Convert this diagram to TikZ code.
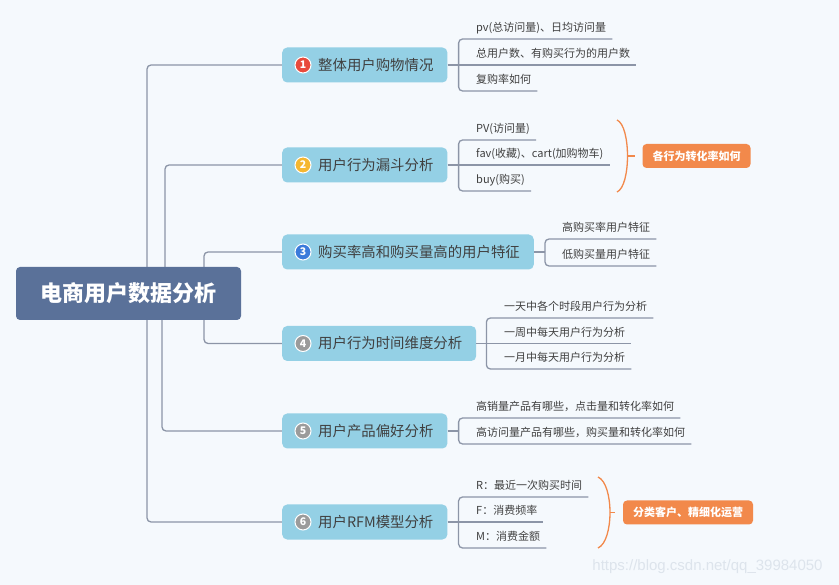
\documentclass[tikz,border=0pt]{standalone}
\usepackage{fontspec}
\setmainfont{Noto Sans CJK SC}
\newfontfamily\urlfont{Liberation Sans}
\usetikzlibrary{positioning}

\definecolor{bgcol}{HTML}{F5F9FD}
\definecolor{linecol}{HTML}{8C95A7}
\definecolor{rootcol}{HTML}{5A7199}
\definecolor{branchcol}{HTML}{94D0E5}
\definecolor{txtcol}{HTML}{404040}
\definecolor{notecol}{HTML}{F2894B}
\definecolor{redbadge}{HTML}{E84A3C}
\definecolor{yellowbadge}{HTML}{F5B730}
\definecolor{bluebadge}{HTML}{3B7BDB}
\definecolor{graybadge}{HTML}{9B9B9B}
\definecolor{wmcol}{HTML}{DDE4EC}

\pgfdeclarelayer{back}
\pgfsetlayers{back,main}

\begin{document}
\begin{tikzpicture}[x=1pt, y=-1pt,
	root/.style = {rectangle, rounded corners=4pt, fill=rootcol, text=white, font=\fontsize{22}{26}\selectfont\bfseries, minimum width=225, minimum height=53, inner sep=0},
	branch/.style = {rectangle, rounded corners=5pt, fill=branchcol, text=txtcol, font=\fontsize{14.4}{17}\selectfont, minimum height=35, inner xsep=14, anchor=west},
	leaf/.style = {text=txtcol, font=\fontsize{11}{13}\selectfont, inner xsep=6, inner ysep=4.5, text height=8.5, text depth=2.5, anchor=south west},
	note/.style = {rectangle, rounded corners=4pt, fill=notecol, text=white, font=\fontsize{11}{13}\selectfont\bfseries, minimum height=24, inner xsep=10},
	badge/.style = {circle, fill=#1, draw=white, line width=1, text=white, font=\fontsize{10.5}{11}\selectfont\bfseries, inner sep=0, minimum size=16},
	link/.style = {draw=linecol, line width=1.3, rounded corners=4pt},
	curl/.style = {draw=notecol, line width=1.3},
	wm/.style = {text=wmcol, font=\urlfont\fontsize{15}{17}\selectfont}
	]
	\useasboundingbox (0,0) rectangle (839,585);
	
	%Nodes
	\node[root]		(root)	at	(128.5, 293.5)	{电商用户数据分析};
	
	\node[branch]	(b1)	at	(282, 65)		{\hspace{22pt}整体用户购物情况};
	\node[branch]	(b2)	at	(282, 165)		{\hspace{22pt}用户行为漏斗分析};
	\node[branch]	(b3)	at	(282, 252)		{\hspace{22pt}购买率高和购买量高的用户特征};
	\node[branch]	(b4)	at	(282, 343.5)	{\hspace{22pt}用户行为时间维度分析};
	\node[branch]	(b5)	at	(282, 431)		{\hspace{22pt}用户产品偏好分析};
	\node[branch]	(b6)	at	(282, 522)		{\hspace{22pt}用户RFM模型分析};
	
	\node[badge=redbadge]		(k1)	at	([xshift=21]b1.west)	{1};
	\node[badge=yellowbadge]	(k2)	at	([xshift=21]b2.west)	{2};
	\node[badge=bluebadge]		(k3)	at	([xshift=21]b3.west)	{3};
	\node[badge=graybadge]		(k4)	at	([xshift=21]b4.west)	{4};
	\node[badge=graybadge]		(k5)	at	([xshift=21]b5.west)	{5};
	\node[badge=graybadge]		(k6)	at	([xshift=21]b6.west)	{6};
	
	\node[leaf]	(l1a)	at	(470, 39)		{pv(总访问量)、日均访问量};
	\node[leaf]	(l1b)	at	(470, 65)		{总用户数、有购买行为的用户数};
	\node[leaf]	(l1c)	at	(470, 91)		{复购率如何};
	\node[leaf]	(l2a)	at	(470, 140)		{PV(访问量)};
	\node[leaf]	(l2b)	at	(470, 165)		{fav(收藏)、cart(加购物车)};
	\node[leaf]	(l2c)	at	(470, 191)		{buy(购买)};
	\node[leaf]	(l3a)	at	(556, 239)		{高购买率用户特征};
	\node[leaf]	(l3b)	at	(556, 266)		{低购买量用户特征};
	\node[leaf]	(l4a)	at	(498, 318)		{一天中各个时段用户行为分析};
	\node[leaf]	(l4b)	at	(498, 343.5)	{一周中每天用户行为分析};
	\node[leaf]	(l4c)	at	(498, 369)		{一月中每天用户行为分析};
	\node[leaf]	(l5a)	at	(470, 418)		{高销量产品有哪些，点击量和转化率如何};
	\node[leaf]	(l5b)	at	(470, 444)		{高访问量产品有哪些，购买量和转化率如何};
	\node[leaf]	(l6a)	at	(470, 497)		{R：最近一次购买时间};
	\node[leaf]	(l6b)	at	(470, 522)		{F：消费频率};
	\node[leaf]	(l6c)	at	(470, 548)		{M：消费金额};
	
	\node[note]	(n2)	at	(696.5, 156)	{各行为转化率如何};
	\node[note]	(n6)	at	(688, 512.5)	{分类客户、精细化运营};
	
	\node[wm]	(wm)	at	(707.5, 567)	{https://blog.csdn.net/qq\_39984050};
	
	\coordinate	(c2t)	at	(617, 120);
	\coordinate	(c2b)	at	(617, 192);
	\coordinate	(c2m)	at	(627.5, 156);
	\coordinate	(c6t)	at	(598, 477);
	\coordinate	(c6b)	at	(598, 548);
	\coordinate	(c6m)	at	(610, 512.5);
	
	%Lines
	\begin{pgfonlayer}{back}
		\fill[bgcol] (0,0) rectangle (839,585);
		\draw[link]	(root.center)	-|	([xshift=-135]b1.west)	--	(b1.west);
		\draw[link]	(root.center)	-|	([xshift=-117]b2.west)	--	(b2.west);
		\draw[link]	(root.center)	-|	([xshift=-78]b3.west)	--	(b3.west);
		\draw[link]	(root.center)	-|	([xshift=-78]b4.west)	--	(b4.west);
		\draw[link]	(root.center)	-|	([xshift=-120]b5.west)	--	(b5.west);
		\draw[link]	(root.center)	-|	([xshift=-135]b6.west)	--	(b6.west);
	\end{pgfonlayer}
	
	\draw[link]	([xshift=11]b1.east)	|-	(l1a.south east);
	\draw[link]	(b1.east)	--	(b1.east -| l1b.south east);
	\draw[link]	([xshift=11]b1.east)	|-	(l1c.south east);
	
	\draw[link]	([xshift=11]b2.east)	|-	(l2a.south east);
	\draw[link]	(b2.east)	--	(b2.east -| l2b.south east);
	\draw[link]	([xshift=11]b2.east)	|-	(l2c.south east);
	
	\draw[link]	(b3.east)	--	++(11,0);
	\draw[link]	([xshift=11]b3.east)	|-	(l3a.south east);
	\draw[link]	([xshift=11]b3.east)	|-	(l3b.south east);
	
	\draw[link]	([xshift=10]b4.east)	|-	(l4a.south east);
	\draw[link]	(b4.east)	--	(b4.east -| l4b.south east);
	\draw[link]	([xshift=10]b4.east)	|-	(l4c.south east);
	
	\draw[link]	(b5.east)	--	++(11,0);
	\draw[link]	([xshift=11]b5.east)	|-	(l5a.south east);
	\draw[link]	([xshift=11]b5.east)	|-	(l5b.south east);
	
	\draw[link]	([xshift=11]b6.east)	|-	(l6a.south east);
	\draw[link]	(b6.east)	--	(b6.east -| l6b.south east);
	\draw[link]	([xshift=11]b6.east)	|-	(l6c.south east);
	
	\draw[curl]	(c2t)	..	controls (631, 126) and (631, 186)	..	(c2b);
	\draw[curl, shorten >=7pt]	(c2m)	--	(n2.west);
	\draw[curl]	(c6t)	..	controls (614, 484) and (614, 541)	..	(c6b);
	\draw[curl, shorten >=8pt]	(c6m)	--	(n6.west);
	
\end{tikzpicture}
\end{document}
